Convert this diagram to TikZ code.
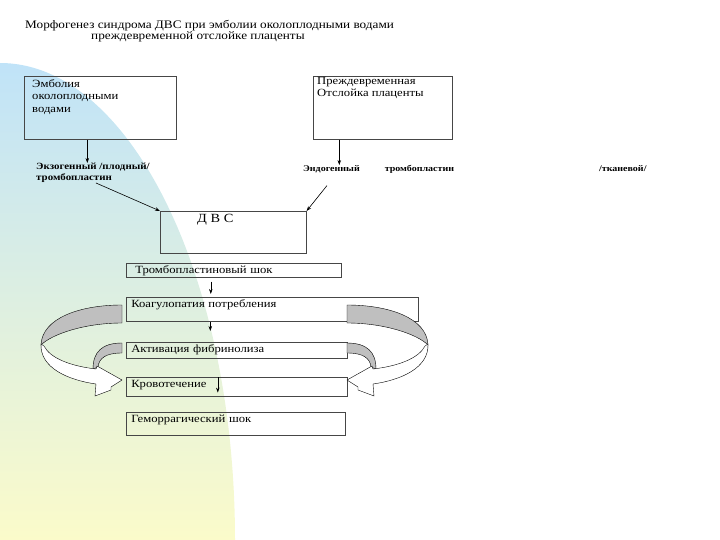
\documentclass[tikz,border=0pt]{standalone}
\usepackage{fontspec}
\setmainfont{Liberation Serif}[FakeStretch=1.15]
\usetikzlibrary{arrows.meta, positioning}

\definecolor{skyblue}{RGB}{192,227,248}
\definecolor{midgreen}{RGB}{226,241,226}
\definecolor{paleyellow}{RGB}{251,251,202}
\definecolor{boxline}{RGB}{70,70,70}

\begin{document}
\begin{tikzpicture}[x=1pt, y=-1pt,
  box/.style={draw=boxline, line width=0.6pt, anchor=north west, inner sep=0pt},
  stage/.style={draw=boxline, line width=0.6pt, anchor=north west, align=left, inner xsep=5pt, inner ysep=2pt, text height=8pt, font=\fontsize{11}{12.5}\selectfont},
  boxtext/.style={align=left, inner sep=0pt, font=\fontsize{11}{12.5}\selectfont},
  lbl/.style={align=left, inner sep=0pt, font=\bfseries\fontsize{9.5}{11}\selectfont},
  arrow/.style={-{Stealth[length=5pt, width=3.5pt]}, line width=0.6pt},
  band/.style={draw=black, line width=0.4pt, fill=black!25},
  front/.style={draw=black, line width=0.4pt, fill=white},
  cyclearrow/.pic={
    \draw[band] (122,305) .. controls (80,305) and (42,318) .. (41,345) .. controls (52,334) and (85,323) .. (122,323) -- cycle;
    \draw[band] (122,343) .. controls (102,343) and (93,352) .. (93,369) -- (98,367) .. controls (99,358) and (106,353) .. (122,353) -- cycle;
    \draw[front] (41,344) .. controls (40,368) and (68,380) .. (96,384) -- (95,396) -- (111,390) -- (111,387) -- (122,380) -- (97,366) -- (96,369) .. controls (70,366) and (50,358) .. (44,346) -- cycle;
  }
]
\useasboundingbox (0,0) rectangle (720,540);

% background
\shade[top color=skyblue, middle color=midgreen, bottom color=paleyellow]
  (0,540) -- (0,63) .. controls (130,63) and (235,277) .. (235,540) -- cycle;

% title
\node[anchor=base west, inner sep=0pt, font=\fontsize{11.5}{13}\selectfont] (title) at (25,28.5) {Морфогенез синдрома ДВС при эмболии околоплодными водами};
\node[anchor=base west, inner sep=0pt, font=\fontsize{11.5}{13}\selectfont] (subtitle) at (91,39.5) {преждевременной отслойке плаценты};

% causes
\node[box, minimum width=152pt, minimum height=63pt] (emb) at (24,76) {};
\node[boxtext, below right=3pt and 8pt of emb.north west] (embtext) {Эмболия\\околоплодными\\водами};
\node[box, minimum width=139pt, minimum height=63pt] (plac) at (313,76) {};
\node[boxtext, below right=1pt and 4pt of plac.north west] (plactext) {Преждевременная\\Отслойка плаценты};

\node[lbl, anchor=north west] (exo) at (36,163) {Экзогенный /плодный/\\тромбопластин};
\node[lbl, anchor=base west, font=\bfseries\fontsize{8.7}{10}\selectfont] (endo) at (303,171.5) {Эндогенный\hspace{25pt}тромбопластин\hspace{145pt}/тканевой/};

\node[box, minimum width=146pt, minimum height=42pt] (dvs) at (160,211) {};
\node[boxtext, below right=3pt and 37pt of dvs.north west, font=\fontsize{12.5}{14}\selectfont] (dvstext) {Д В С};

% stages
\node[stage, text width=197pt, inner xsep=9pt, text depth=2pt] (tshock) at (126,263) {Тромбопластиновый шок};
\node[stage, text width=282pt, text depth=12pt] (koag) at (126,297) {Коагулопатия потребления};
\node[stage, text width=211pt, text depth=4pt] (fibr) at (126,342) {Активация фибринолиза};
\node[stage, text width=211pt, text depth=7pt] (bleed) at (126,377) {Кровотечение};
\node[stage, text width=209pt, text depth=11pt] (hshock) at (126,412) {Геморрагический шок};

% connectors
\draw[arrow] ([xshift=-13pt]emb.south) -- ([xshift=-13pt]emb.south |- exo.north);
\draw[arrow] ([xshift=-43.5pt]plac.south) -- ([xshift=-43.5pt]plac.south |- endo.north);
\draw[arrow] ([xshift=3pt]exo.south) -- (dvs.north west);
\draw[arrow] ([shift={(24pt,-12pt)}]endo.south west) -- (dvs.north east);
\draw[arrow, shorten <=4pt, shorten >=3pt] ([xshift=-23pt]tshock.south) -- ([xshift=-23pt]tshock.south |- koag.north);
\draw[arrow, shorten >=11pt] ([xshift=-62pt]koag.south) -- ([xshift=-62pt]koag.south |- fibr.north);
\draw[arrow, shorten >=4pt] ([xshift=-19pt]bleed.north) -- ([xshift=-19pt]bleed.south);

% loops
\pic at (0,0) {cyclearrow};
\pic[xscale=-1] at (469,0) {cyclearrow};
\end{tikzpicture}
\end{document}
